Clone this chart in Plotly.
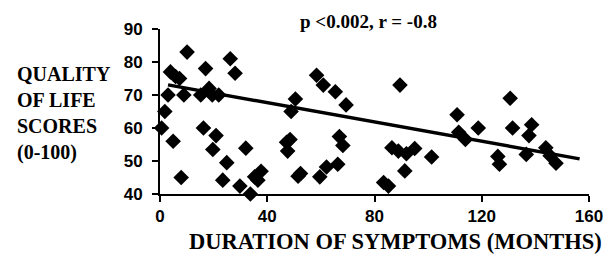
import plotly.graph_objects as go

months = [0.6, 1.8, 3, 3.9, 5.8, 7.3, 4.9, 7.9, 8.9, 10.1, 15.2, 16.2, 17, 18.3, 19.5,
          20.9, 19.7, 21.9, 24.9, 23.4, 26.2, 28, 29.8, 32, 33.7, 35.3, 37.7, 36.5,
          47.2, 48.5, 47.6, 50.5, 48.9, 51.5, 52.4, 58.4, 60.9, 65.4, 69.4, 66.9, 68.2,
          59.6, 62.1, 66.3, 89.5, 86.5, 88.9, 91.9, 95, 91.3, 101.3, 83.4, 85.2,
          110.8, 111.4, 113.9, 118.7, 130.6, 131.5, 138.6, 137.6, 126, 126.6, 136.6,
          143.9, 145.5, 147.7]
scores = [60, 65, 70, 77, 75.6, 75, 56, 45, 70, 83, 70, 60, 78, 72, 70,
          57.7, 53.5, 70, 49.5, 44.2, 81, 76.6, 42.4, 53.9, 40, 45.2, 46.9, 44.2,
          55.7, 56.5, 53, 68.8, 65, 45.4, 46.2, 76, 73, 71, 67, 57.4, 54.7,
          45.2, 48.2, 49, 73, 54, 53, 52.2, 53.8, 47, 51.2, 43.5, 42.4,
          64, 58.7, 56.5, 60, 69, 60, 61, 57.7, 51.4, 49, 52,
          54, 51.6, 49.3]

fit_intercept = 73.5
fit_slope = -0.146
fit_x = [3, 156.5]
fit_y = [fit_intercept + fit_slope * x for x in fit_x]

x_ticks = [0, 40, 80, 120, 160]
y_ticks = [40, 50, 60, 70, 80, 90]

fig = go.Figure()
fig.add_trace(go.Scatter(x=months, y=scores, mode="markers",
                         marker=dict(symbol="diamond", size=12, color="black"),
                         cliponaxis=False, showlegend=False))
fig.add_trace(go.Scatter(x=fit_x, y=fit_y, mode="lines",
                         line=dict(color="black", width=3.5),
                         cliponaxis=False, showlegend=False))

tick_font = dict(family="Liberation Sans", size=17, color="black", weight="bold")

fig.update_layout(
    width=607, height=249,
    margin=dict(l=152, r=16, t=19, b=63),
    paper_bgcolor="white", plot_bgcolor="white",
    xaxis=dict(range=[0, 160], tickvals=x_ticks, ticks="outside", ticklen=6, tickwidth=2,
               tickcolor="black", showline=True, linecolor="black", linewidth=2,
               showgrid=False, zeroline=False, tickfont=tick_font, ticklabelstandoff=0),
    yaxis=dict(range=[40, 90], tickvals=y_ticks, ticks="outside", ticklen=6, tickwidth=2,
               tickcolor="black", showline=True, linecolor="black", linewidth=2,
               showgrid=False, zeroline=False, tickfont=tick_font, ticklabelstandoff=6),
    annotations=[
        dict(text="p <0.002, r = -0.8", xref="paper", yref="paper", x=0.486, y=1.045,
             xanchor="center", yanchor="middle", showarrow=False,
             font=dict(family="Liberation Serif", size=19, color="black", weight="bold")),
        dict(text="QUALITY<br>OF LIFE<br>SCORES<br>(0-100)", xref="paper", yref="paper",
             x=-0.337, y=0.49, xanchor="left", yanchor="middle", align="left", showarrow=False,
             font=dict(family="Liberation Serif", size=20, color="black", weight="bold")),
        dict(text="DURATION OF SYMPTOMS (MONTHS)", xref="paper", yref="paper",
             x=0.55, y=-0.285, xanchor="center", yanchor="middle", showarrow=False,
             font=dict(family="Liberation Serif", size=22.5, color="black", weight="bold")),
    ],
)

fig.write_html("out.html")
